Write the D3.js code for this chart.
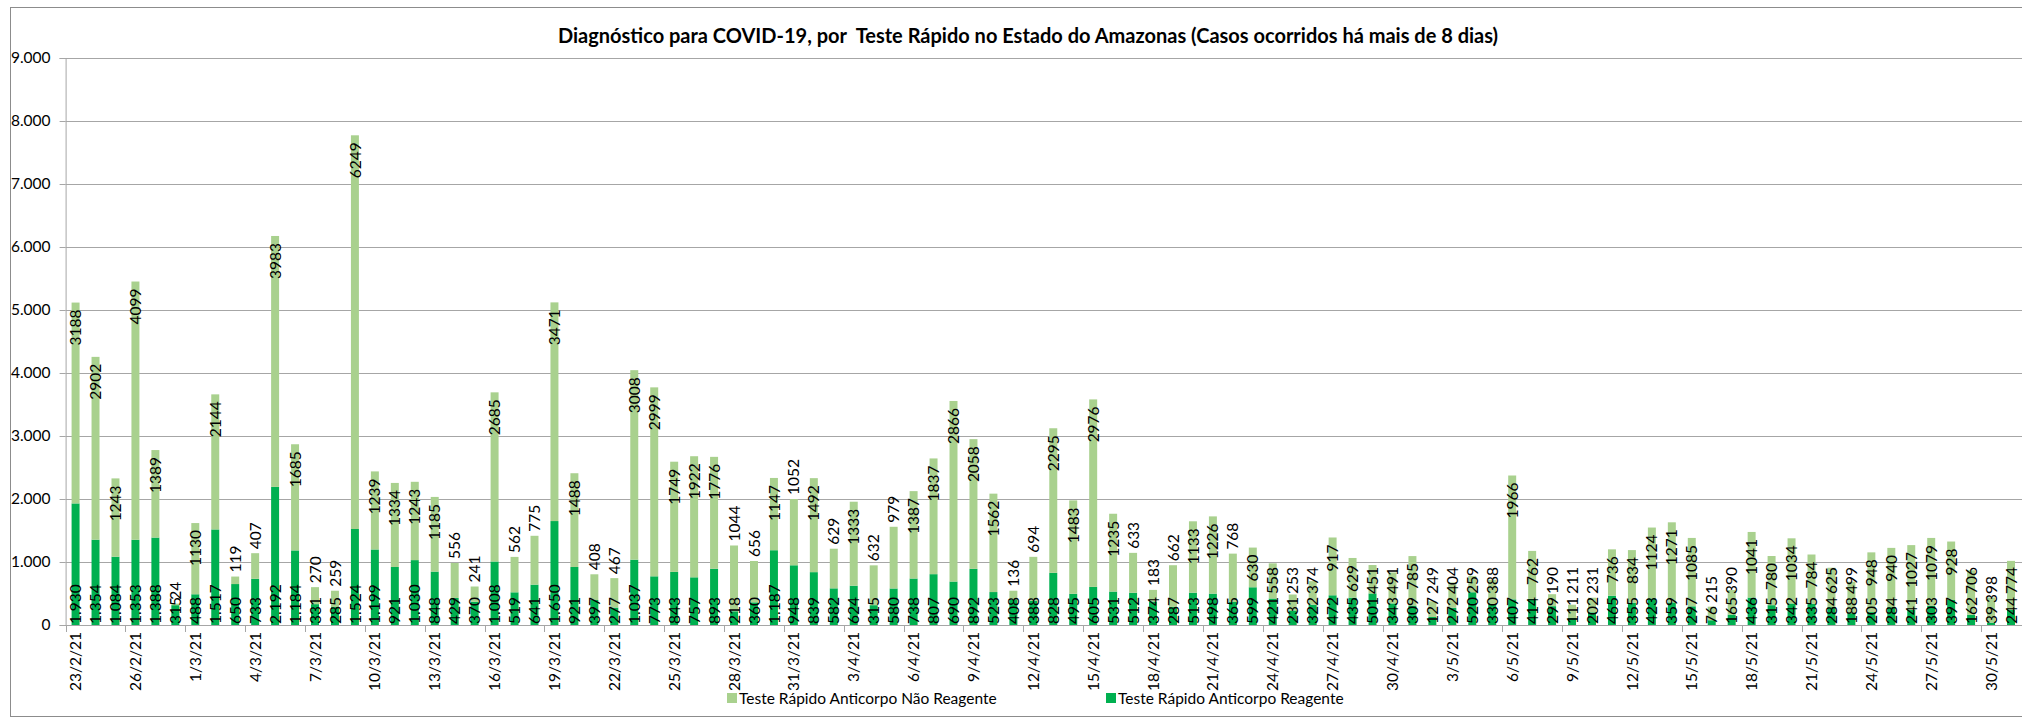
<!DOCTYPE html>
<html><head><meta charset="utf-8">
<script src="https://cdn.jsdelivr.net/npm/d3@7"></script>
<style>
html,body{margin:0;padding:0;background:#fff;}
svg{display:block;}
text{font-family:Lato,"Open Sans",sans-serif;fill:#000;}
</style></head>
<body>
<svg id="chart" width="2022" height="724"></svg>
<script>
const title = "Diagnóstico para COVID-19, por  Teste Rápido no Estado do Amazonas (Casos ocorridos há mais de 8 dias)";
const seriesNames = ["Teste Rápido Anticorpo Não Reagente", "Teste Rápido Anticorpo Reagente"];
const dates = [
"23/2/21","24/2/21","25/2/21","26/2/21","27/2/21","28/2/21",
"1/3/21","2/3/21","3/3/21","4/3/21","5/3/21","6/3/21","7/3/21","8/3/21","9/3/21","10/3/21",
"11/3/21","12/3/21","13/3/21","14/3/21","15/3/21","16/3/21","17/3/21","18/3/21","19/3/21","20/3/21",
"21/3/21","22/3/21","23/3/21","24/3/21","25/3/21","26/3/21","27/3/21","28/3/21","29/3/21","30/3/21","31/3/21",
"1/4/21","2/4/21","3/4/21","4/4/21","5/4/21","6/4/21","7/4/21","8/4/21","9/4/21","10/4/21",
"11/4/21","12/4/21","13/4/21","14/4/21","15/4/21","16/4/21","17/4/21","18/4/21","19/4/21","20/4/21",
"21/4/21","22/4/21","23/4/21","24/4/21","25/4/21","26/4/21","27/4/21","28/4/21","29/4/21","30/4/21",
"1/5/21","2/5/21","3/5/21","4/5/21","5/5/21","6/5/21","7/5/21","8/5/21","9/5/21","10/5/21",
"11/5/21","12/5/21","13/5/21","14/5/21","15/5/21","16/5/21","17/5/21","18/5/21","19/5/21","20/5/21",
"21/5/21","22/5/21","23/5/21","24/5/21","25/5/21","26/5/21","27/5/21","28/5/21","29/5/21","30/5/21","31/5/21"];
const reagente = [
1930,1354,1084,1353,1388,315,
488,1517,650,733,2192,1184,331,285,1524,1199,
921,1030,848,429,370,1008,519,641,1650,921,
397,277,1037,773,843,757,893,218,360,1187,948,
839,582,624,315,580,738,807,690,892,523,
408,388,828,495,605,531,512,374,287,513,
498,365,599,421,231,322,472,435,501,343,
309,127,272,520,330,407,414,299,111,202,
465,355,423,359,297,76,165,436,315,342,
335,284,188,205,284,241,303,397,162,39,244];
const naoReagente = [
3188,2902,1243,4099,1389,24,
1130,2144,119,407,3983,1685,270,259,6249,1239,
1334,1243,1185,556,241,2685,562,775,3471,1488,
408,467,3008,2999,1749,1922,1776,1044,656,1147,1052,
1492,629,1333,632,979,1387,1837,2866,2058,1562,
136,694,2295,1483,2976,1235,633,183,662,1133,
1226,768,630,558,253,374,917,629,451,491,
785,249,404,259,388,1966,762,190,211,231,
736,834,1124,1271,1085,215,390,1041,780,1034,
784,625,499,948,940,1027,1079,928,706,398,774];
const yTicks = [0,1000,2000,3000,4000,5000,6000,7000,8000,9000];
// from this date on, the upper labels sit inside the bar end
const insideLabelsFrom = "23/4/21";

const colLight = "#a9d18e", colDark = "#00b050", gridCol = "#a6a6a6";
const svg = d3.select("#chart");
const loc = d3.formatLocale({decimal:",", thousands:".", grouping:[3], currency:["R$",""]});
const fmtK = loc.format(",d");

const L = 65.6, R = 2021, T = 58, B = 625;
const x = d3.scaleBand().domain(dates).range([L, R]).paddingInner(0.6).paddingOuter(0.3);
const y = d3.scaleLinear().domain([0, 9000]).range([B, T]);
const step = x.step(), bw = x.bandwidth();

// outer border
svg.append("rect").attr("x",10.5).attr("y",7.5).attr("width",2100).attr("height",709)
  .attr("fill","none").attr("stroke","#8c8c8c").attr("stroke-width",1);

// title
svg.append("text").attr("x",1028).attr("y",43).attr("text-anchor","middle")
  .attr("xml:space","preserve").style("white-space","pre")
  .style("font-weight","bold").style("font-size","20px").text(title);

// gridlines
svg.append("g").selectAll("line").data(yTicks.filter(d=>d>0)).join("line")
  .attr("x1",L).attr("x2",2022).attr("y1",d=>Math.round(y(d))+0.5).attr("y2",d=>Math.round(y(d))+0.5)
  .attr("stroke",gridCol).attr("stroke-width",1);

// y axis
const yAxis = d3.axisLeft(y).tickValues(yTicks).tickSize(6).tickFormat(d=>fmtK(d));
const gy = svg.append("g").attr("transform",`translate(${L},0)`).call(yAxis);
gy.select(".domain").attr("stroke",gridCol);
gy.selectAll(".tick line").attr("stroke",gridCol);
gy.selectAll(".tick text").attr("x",-15).style("font-size","15.5px").style("font-family","Lato");

// bars
const stackData = dates.map((d,i)=>({date:d, i:i, r:reagente[i], n:naoReagente[i]}));
const stack = d3.stack().keys(["r","n"])(stackData);
const colors = {r:colDark, n:colLight};
svg.append("g").selectAll("g").data(stack).join("g").attr("fill",s=>colors[s.key])
  .selectAll("rect").data(s=>s).join("rect")
  .attr("x",d=>x(d.data.date)).attr("width",bw)
  .attr("y",d=>y(d[1])).attr("height",d=>y(d[0])-y(d[1]));

// x axis line & ticks
svg.append("line").attr("x1",L).attr("x2",2022).attr("y1",B+0.5).attr("y2",B+0.5).attr("stroke",gridCol);
const tickDates = dates.filter((d,i)=>i%3===0);
svg.append("g").selectAll("line").data(tickDates).join("line")
  .attr("x1",d=>Math.round(x(d)-(step-bw)/2)+0.5).attr("x2",d=>Math.round(x(d)-(step-bw)/2)+0.5)
  .attr("y1",B).attr("y2",B+7).attr("stroke",gridCol);
svg.append("g").selectAll("text").data(tickDates).join("text")
  .attr("transform",d=>`translate(${x(d)+bw/2},${B+7}) rotate(-90)`)
  .attr("text-anchor","end").attr("dy","0.36em").style("font-size","15.5px").text(d=>d);

// data labels
const lblSize = 15.5;
const lg = svg.append("g").style("font-size",lblSize+"px");
// dark: inside base
const darkTop = {};
lg.selectAll("text.dk").data(stackData).join("text").attr("class","dk")
  .attr("transform",d=>`translate(${x(d.date)+bw/2},${B-1}) rotate(-90)`)
  .attr("text-anchor","start").attr("dy","0.36em").text(d=>fmtK(d.r))
  .each(function(d){ darkTop[d.date] = B - 1 - this.getComputedTextLength(); });
// light labels
const insideIdx = dates.indexOf(insideLabelsFrom);
const lt = lg.selectAll("text.lt").data(stackData).join("text").attr("class","lt")
  .attr("dy","0.36em").text(d=>String(d.n));
lt.each(function(d){
  const len = this.getComputedTextLength();
  const top = y(d.r + d.n), seg = y(d.r) - top;
  const sel = d3.select(this);
  const cx = x(d.date)+bw/2;
  if (d.i >= insideIdx) {
    let bottom = top + 7 + len;
    const lim = darkTop[d.date] - 3;
    if (bottom > lim) bottom = lim;
    sel.attr("text-anchor","start").attr("transform",`translate(${cx},${bottom}) rotate(-90)`);
  } else if (seg >= len + 35) {
    sel.attr("text-anchor","end").attr("transform",`translate(${cx},${top+7}) rotate(-90)`);
  } else {
    sel.attr("text-anchor","start").attr("transform",`translate(${cx},${top-4}) rotate(-90)`);
  }
});

// legend
const leg = [{name:seriesNames[0], c:colLight, x:727},{name:seriesNames[1], c:colDark, x:1106}];
const lgd = svg.append("g").selectAll("g").data(leg).join("g").attr("transform",d=>`translate(${d.x},693)`);
lgd.append("rect").attr("width",10).attr("height",10).attr("fill",d=>d.c);
lgd.append("text").attr("x",12).attr("y",5).attr("dy","0.36em").style("font-size","15.5px").text(d=>d.name);
</script>
</body></html>
